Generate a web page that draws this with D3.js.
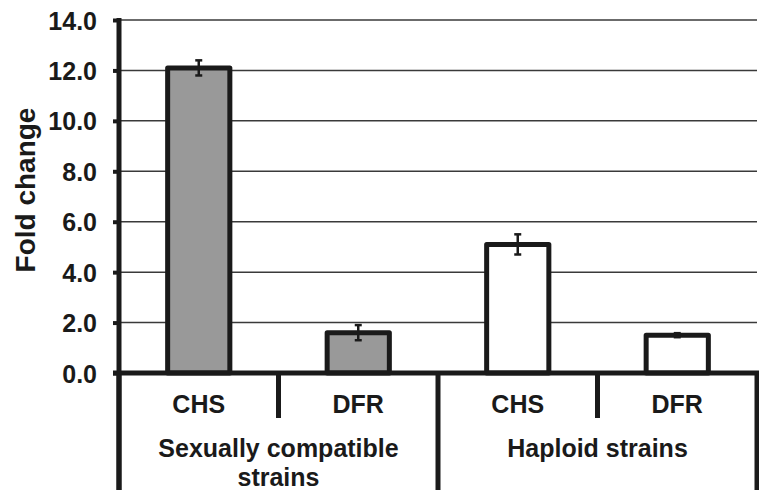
<!DOCTYPE html>
<html>
<head>
<meta charset="utf-8">
<script src="https://cdn.jsdelivr.net/npm/d3@7"></script>
<style>
  html, body { margin: 0; padding: 0; background: #ffffff; }
  svg text { font-family: "Liberation Sans", Arial, sans-serif; font-weight: bold; fill: #1a1a1a; }
</style>
</head>
<body>
<svg id="chart" width="759" height="490"></svg>
<script>
// Fold change of gene expression, grouped by strain type
const genes = ["CHS", "DFR", "CHS", "DFR"];
const groupOf = [0, 0, 1, 1];
const groups = [["Sexually compatible", "strains"], ["Haploid strains"]];
const foldChange = [12.1, 1.6, 5.1, 1.5];
const foldError = [0.3, 0.3, 0.4, 0.08];
const groupFill = ["#999999", "#ffffff"];
const yTicks = [0, 2, 4, 6, 8, 10, 12, 14];

const W = 759, H = 490;
const plotLeft = 119, plotRight = 757, plotTop = 20, plotBase = 373;
const ink = "#1a1a1a";

const svg = d3.select("#chart");

const x = d3.scaleBand()
  .domain(d3.range(genes.length))
  .range([plotLeft, plotRight])
  .padding(0);

const y = d3.scaleLinear().domain([0, 14]).range([plotBase, plotTop]);

// horizontal gridlines
svg.append("g")
  .selectAll("line")
  .data(yTicks.filter(d => d > 0))
  .join("line")
  .attr("x1", plotLeft).attr("x2", plotRight)
  .attr("y1", d => y(d)).attr("y2", d => y(d))
  .attr("stroke", "#3a3a3a")
  .attr("stroke-width", 1.5);

// y axis ticks and labels
const yAxis = svg.append("g")
  .attr("transform", `translate(${plotLeft},0)`)
  .call(d3.axisLeft(y).tickValues(yTicks).tickFormat(d => d.toFixed(1)).tickSize(6).tickPadding(16));
yAxis.select(".domain").remove();
yAxis.selectAll(".tick line").attr("stroke", ink).attr("stroke-width", 4);
yAxis.selectAll(".tick text")
  .style("font-size", "25px")
  .attr("dy", "0.36em")
  .attr("fill", ink);

// bars
const barW = x.bandwidth() * 0.39;
svg.append("g")
  .selectAll("rect")
  .data(foldChange)
  .join("rect")
  .attr("x", (d, i) => x(i) + (x.bandwidth() - barW) / 2)
  .attr("y", d => y(d))
  .attr("width", barW)
  .attr("height", d => plotBase - y(d))
  .attr("fill", (d, i) => groupFill[groupOf[i]])
  .attr("stroke", ink)
  .attr("stroke-width", 5)
  .attr("stroke-linejoin", "round");

// error bars
const eb = svg.append("g").attr("stroke", ink);
foldChange.forEach((v, i) => {
  const cx = x(i) + x.bandwidth() / 2;
  const e = foldError[i];
  eb.append("line")
    .attr("x1", cx).attr("x2", cx)
    .attr("y1", y(v + e)).attr("y2", y(v - e))
    .attr("stroke-width", 2.5);
  [v + e, v - e].forEach(t => {
    eb.append("line")
      .attr("x1", cx - 3.5).attr("x2", cx + 3.5)
      .attr("y1", y(t)).attr("y2", y(t))
      .attr("stroke-width", 2.5);
  });
});

// axis frame: vertical axis, baseline, and category table dividers
const frame = svg.append("g").attr("stroke", ink).attr("stroke-width", 5);
frame.append("line").attr("x1", plotLeft).attr("x2", plotLeft).attr("y1", plotTop - 2).attr("y2", H);
frame.append("line").attr("x1", plotLeft - 6).attr("x2", plotRight + 2).attr("y1", plotBase).attr("y2", plotBase);

const groupEdges = [plotLeft, x(2), plotRight];
groupEdges.forEach(gx => {
  frame.append("line").attr("x1", gx).attr("x2", gx).attr("y1", plotBase).attr("y2", H);
});
[x(1), x(3)].forEach(gx => {
  frame.append("line").attr("x1", gx).attr("x2", gx).attr("y1", plotBase).attr("y2", 418);
});

// gene labels
svg.append("g")
  .selectAll("text")
  .data(genes)
  .join("text")
  .attr("x", (d, i) => x(i) + x.bandwidth() / 2)
  .attr("y", 413)
  .attr("text-anchor", "middle")
  .style("font-size", "25px")
  .text(d => d);

// group labels
groups.forEach((lines, g) => {
  const cx = (groupEdges[g] + groupEdges[g + 1]) / 2;
  const t = svg.append("text")
    .attr("x", cx)
    .attr("y", 457)
    .attr("text-anchor", "middle")
    .style("font-size", "25px");
  lines.forEach((s, k) => {
    t.append("tspan").attr("x", cx).attr("dy", k === 0 ? 0 : 29).text(s);
  });
});

// y axis title
svg.append("text")
  .attr("transform", `translate(35,190) rotate(-90)`)
  .attr("text-anchor", "middle")
  .style("font-size", "28px")
  .text("Fold change");
</script>
</body>
</html>
